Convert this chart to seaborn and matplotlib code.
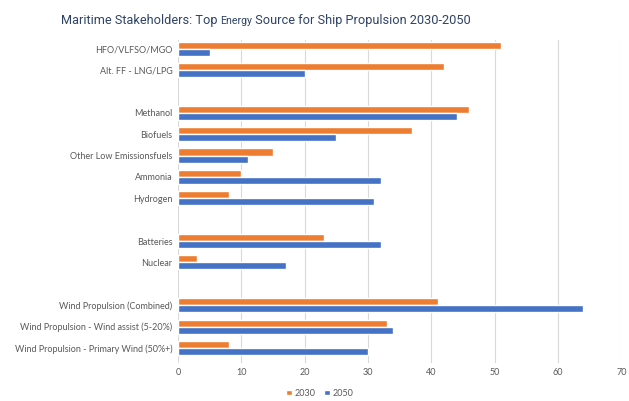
import matplotlib
matplotlib.use("Agg")
import matplotlib.pyplot as plt
import seaborn as sns
import pandas as pd
import numpy as np

categories = ["HFO/VLFSO/MGO", "Alt. FF - LNG/LPG", "", "Methanol", "Biofuels",
              "Other Low Emissionsfuels", "Ammonia", "Hydrogen", " ",
              "Batteries", "Nuclear", "  ",
              "Wind Propulsion (Combined)", "Wind Propulsion - Wind assist (5-20%)",
              "Wind Propulsion - Primary Wind (50%+)"]
values_2030 = [51, 42, np.nan, 46, 37, 15, 10, 8, np.nan, 23, 3, np.nan, 41, 33, 8]
values_2050 = [5, 20, np.nan, 44, 25, 11, 32, 31, np.nan, 32, 17, np.nan, 64, 34, 30]
series = ["2030", "2050"]
x_ticks = [0, 10, 20, 30, 40, 50, 60, 70]

df = pd.DataFrame({
    "category": categories * 2,
    "value": values_2030 + values_2050,
    "year": [series[0]] * len(categories) + [series[1]] * len(categories),
})

sns.set_theme(style="white")
plt.rcParams["font.family"] = ["Lato", "DejaVu Sans"]

fig = plt.figure(figsize=(6.29, 4.01), dpi=100)
ax = fig.add_axes([0.283, 0.095, 0.705, 0.805])

sns.barplot(data=df, y="category", x="value", hue="year", order=categories,
            hue_order=series, palette=["#ED7D31", "#4472C4"], orient="h",
            width=0.66, saturation=1, ax=ax, legend=True, errorbar=None)

ax.set_xlim(0, 70)
ax.set_xticks(x_ticks)
ax.set_ylim(14.7, -0.4)
ax.grid(axis="x", color="#D9D9D9", linewidth=0.8)
ax.set_axisbelow(True)
for s in ax.spines.values():
    s.set_visible(False)
ax.tick_params(axis="both", length=0, labelsize=6.5, labelcolor="#595959", pad=4)
ax.set_xlabel("")
ax.set_ylabel("")

leg = ax.legend(loc="upper center", bbox_to_anchor=(0.32, -0.055), ncol=2, frameon=False,
                fontsize=6.5, handlelength=0.6, handleheight=0.6, handletextpad=0.3,
                columnspacing=1.0, labelcolor="#595959")

# Title with smaller "Energy"
title_color = "#2E4365"
base = 10.0
parts = [("Maritime Stakeholders: Top ", 1.0), ("Energy", 0.82),
         (" Source for Ship Propulsion 2030-2050", 1.0)]
fig.canvas.draw()
renderer = fig.canvas.get_renderer()
texts = []
for s, rel in parts:
    t = fig.text(0, 1 - 24 / 401, s, fontsize=base * rel, color=title_color,
                 family=["Roboto", "DejaVu Sans"], ha="left", va="baseline")
    texts.append(t)
widths = [t.get_window_extent(renderer).width for t in texts]
scale = 408 / sum(widths)
for t, (s, rel) in zip(texts, parts):
    t.set_fontsize(base * rel * scale)
widths = [t.get_window_extent(renderer).width for t in texts]
start = 266 - sum(widths) / 2
for t, w in zip(texts, widths):
    t.set_x(start / fig.bbox.width)
    start += w

fig.savefig("out.png", dpi=100)
